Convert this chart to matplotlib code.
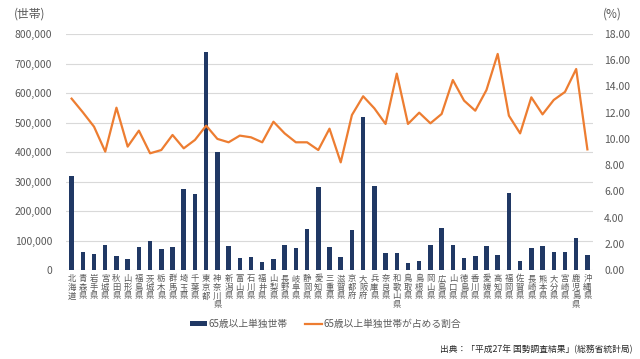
import numpy as np
import matplotlib.pyplot as plt
from matplotlib.ticker import FuncFormatter, MultipleLocator

plt.rcParams['font.family'] = ['Noto Sans CJK JP', 'DejaVu Sans']

prefs = ['北海道', '青森県', '岩手県', '宮城県', '秋田県', '山形県', '福島県', '茨城県',
         '栃木県', '群馬県', '埼玉県', '千葉県', '東京都', '神奈川県', '新潟県', '富山県',
         '石川県', '福井県', '山梨県', '長野県', '岐阜県', '静岡県', '愛知県', '三重県',
         '滋賀県', '京都府', '大阪府', '兵庫県', '奈良県', '和歌山県', '鳥取県', '島根県',
         '岡山県', '広島県', '山口県', '徳島県', '香川県', '愛媛県', '高知県', '福岡県',
         '佐賀県', '長崎県', '熊本県', '大分県', '宮崎県', '鹿児島県', '沖縄県']

# 65歳以上単独世帯
households = [319000, 60000, 53000, 85000, 46000, 37000, 77000, 99000,
              70000, 79000, 273000, 259000, 738000, 399000, 81000, 40000,
              45000, 26000, 37000, 84000, 73000, 138000, 280000, 77000,
              43000, 136000, 520000, 286000, 59000, 56000, 23000, 30000,
              85000, 144000, 85000, 40000, 47000, 81000, 51000, 261000,
              30000, 73000, 82000, 60000, 60000, 110000, 51000]

# 割合 (%)
ratio = [13.07, 12.03, 10.93, 9.03, 12.38, 9.41, 10.63, 8.90,
         9.15, 10.30, 9.28, 9.92, 11.01, 10.00, 9.74, 10.25,
         10.12, 9.74, 11.31, 10.42, 9.74, 9.74, 9.15, 10.78,
         8.21, 11.82, 13.25, 12.33, 11.14, 14.98, 11.14, 12.00,
         11.19, 11.90, 14.49, 12.92, 12.15, 13.73, 16.48, 11.77,
         10.42, 13.17, 11.87, 12.97, 13.58, 15.33, 9.20]

navy = '#203864'
orange = '#ED7D31'
gray = '#595959'

fig = plt.figure(figsize=(6.4, 3.59), dpi=100)
ax = fig.add_axes([66/640, (359-270)/359, 527/640, 236/359])
x = np.arange(len(prefs))

bars = ax.bar(x, households, width=0.4, color=navy, zorder=3)
ax.set_ylim(0, 800000)
ax.set_xlim(-0.5, len(prefs) - 0.5)
ax.yaxis.set_major_locator(MultipleLocator(100000))
ax.yaxis.set_major_formatter(FuncFormatter(lambda v, p: f'{int(v):,}'))
ax.grid(axis='y', color='#D9D9D9', linewidth=0.8, zorder=0)
ax.set_axisbelow(True)
for s in ax.spines.values():
    s.set_visible(False)
ax.tick_params(axis='y', length=0, colors=gray, labelsize=7.5, pad=10)
ax.tick_params(axis='x', length=0, colors=gray, pad=3)
ax.set_xticks(x)
ax.set_xticklabels(['\n'.join(p) for p in prefs], fontsize=6, linespacing=0.95, va='top')

ax2 = ax.twinx()
line, = ax2.plot(x, ratio, color=orange, linewidth=1.6, zorder=4)
ax2.set_ylim(0, 18)
ax2.yaxis.set_major_locator(MultipleLocator(2))
ax2.yaxis.set_major_formatter(FuncFormatter(lambda v, p: f'{v:.2f}'))
for s in ax2.spines.values():
    s.set_visible(False)
ax2.tick_params(axis='y', length=0, colors=gray, labelsize=7.5, pad=8)

fig.text(14/640, 1 - 14/359, '(世帯)', fontsize=8.5, color=gray, va='center', ha='left')
fig.text(603/640, 1 - 14/359, '(%)', fontsize=8.5, color=gray, va='center', ha='left')

fig.legend([bars, line], ['65歳以上単独世帯', '65歳以上単独世帯が占める割合'],
           loc='center', bbox_to_anchor=(326/640, 1 - 324/359), ncol=2, frameon=False,
           fontsize=7, labelcolor=gray, handlelength=1.7, handleheight=0.5,
           columnspacing=1.8, handletextpad=0.2)

fig.text(632/640, 1 - 349/359, '出典：「平成27年 国勢調査結果」(総務省統計局)', fontsize=6.3,
         color='#262626', ha='right', va='center')

fig.savefig('out.png', dpi=100)
